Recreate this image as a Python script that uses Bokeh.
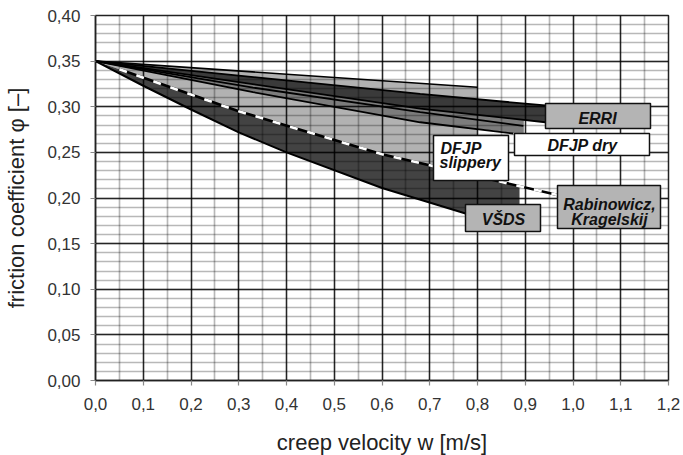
import numpy as np
from bokeh.plotting import figure
from bokeh.models import (Range1d, FixedTicker, CustomJSTickFormatter,
                          Label, BoxAnnotation)
from bokeh.embed import file_html
from bokeh.resources import INLINE

# ---------------- data ----------------
# upper border line of the DFJP slippery field
top_x = [0.0, 0.8]
top_y = [0.35, 0.3214]
# ERRI band (upper / lower edge)
erri_up_x = [0.0, 0.68, 0.942]
erri_up_y = [0.35, 0.314, 0.3014]
erri_lo_x = [0.0, 0.68, 0.942]
erri_lo_y = [0.35, 0.298, 0.283]
# DFJP dry lines
dry_a_x = [0.0, 0.33, 0.68, 0.896]
dry_a_y = [0.35, 0.321, 0.294, 0.279]
dry_b_x = [0.0, 0.33, 0.68, 0.875]
dry_b_y = [0.35, 0.316, 0.283, 0.2707]
dry_lo_x = [0.0, 0.33, 0.68, 0.897]
dry_lo_y = [0.35, 0.316, 0.283, 0.270]
dry_end = 0.897
# Rabinowicz, Kragelskij (dashed)
rab_x = [0.05, 0.3, 0.6, 0.97]
rab_y = [0.341, 0.295, 0.248, 0.203]
# VSDS lower edge
vs_lo_x = [0.0, 0.1, 0.2, 0.3, 0.4, 0.6, 0.775, 0.888]
vs_lo_y = [0.35, 0.323, 0.297, 0.272, 0.25, 0.211, 0.183, 0.166]
vs_end = 0.888
slip_end = 0.8

x_major = [round(i * 0.1, 1) for i in range(13)]
x_minor = [round(i * 0.05, 2) for i in range(25)]
y_major = [round(i * 0.05, 2) for i in range(9)]
y_minor = [round(i * 0.01, 2) for i in range(41)]

# ---------------- layout helpers (reference pixel -> data) ----------------
X0, X1, Y0, Y1 = 95.0, 668.0, 380.0, 15.0
def px2x(px):
    return (px - X0) / (X1 - X0) * 1.2
def px2y(py):
    return (Y0 - py) / (Y0 - Y1) * 0.40

p = figure(frame_width=573, frame_height=365, output_backend="svg",
           toolbar_location=None, x_range=Range1d(0, 1.2), y_range=Range1d(0, 0.40),
           min_border_left=95, min_border_right=15, min_border_top=15,
           min_border_bottom=74, background_fill_color="white",
           border_fill_color="white")
p.outline_line_color = "#222222"
p.outline_line_width = 1.5

# ---- fields (drawn below grid) ----
# DFJP slippery (light gray)
rx_end = float(np.interp(slip_end, rab_x, rab_y))
mask = [x for x in rab_x if x < slip_end]
sx = list(top_x) + [slip_end] + mask[::-1] + [0.0]
sy = list(top_y) + [rx_end] + [rab_y[rab_x.index(x)] for x in mask][::-1] + [0.35]
p.patch(sx, sy, fill_color="#b2b2b2", line_color=None, level="image")

# DFJP dry (medium gray)
up_end = float(np.interp(dry_end, erri_lo_x, erri_lo_y))
ux = [x for x in erri_lo_x if x < dry_end] + [dry_end]
uy = [y for x, y in zip(erri_lo_x, erri_lo_y) if x < dry_end] + [up_end]
dx = ux + dry_lo_x[::-1]
dy = uy + dry_lo_y[::-1]
p.patch(dx, dy, fill_color="#7c7c7c", line_color=None, level="image")

# ERRI (dark)
ex = erri_up_x + erri_lo_x[::-1]
ey = erri_up_y + erri_lo_y[::-1]
p.patch(ex, ey, fill_color="#3a3a3a", line_color=None, level="image")

# VSDS (dark)
r_end = float(np.interp(vs_end, rab_x, rab_y))
vx = [0.0] + [x for x in rab_x if x < vs_end] + [vs_end] + vs_lo_x[::-1]
vy = [0.35] + [y for x, y in zip(rab_x, rab_y) if x < vs_end] + [r_end] + vs_lo_y[::-1]
p.patch(vx, vy, fill_color="#434343", line_color=None, level="image")

# ---- grid / ticks ----
xt = FixedTicker(ticks=x_major, minor_ticks=x_minor)
yt = FixedTicker(ticks=y_major, minor_ticks=y_minor)
p.xaxis.ticker = xt
p.yaxis.ticker = yt
p.xgrid.ticker = xt
p.ygrid.ticker = yt
for g in (p.xgrid, p.ygrid):
    g.grid_line_color = "black"
    g.grid_line_alpha = 0.8
    g.grid_line_width = 1.4
    g.minor_grid_line_color = "black"
    g.minor_grid_line_alpha = 0.28
    g.minor_grid_line_width = 1.7

# ---- lines ----
p.line(top_x, top_y, line_color="black", line_width=1.6)
p.line(erri_up_x, erri_up_y, line_color="black", line_width=1.8)
p.line(erri_lo_x, erri_lo_y, line_color="black", line_width=1.8)
p.line(dry_a_x, dry_a_y, line_color="black", line_width=1.8)
p.line(dry_b_x, dry_b_y, line_color="black", line_width=1.8)
p.line(vs_lo_x, vs_lo_y, line_color="black", line_width=2.0)
p.line(rab_x, rab_y, line_color="black", line_width=2.6)
p.line(rab_x, rab_y, line_color="white", line_width=2.6, line_dash="8 10")

# ---- axes ----
p.xaxis.formatter = CustomJSTickFormatter(code="return tick.toFixed(1).replace('.', ',');")
p.yaxis.formatter = CustomJSTickFormatter(code="return tick.toFixed(2).replace('.', ',');")
for ax in (p.xaxis, p.yaxis):
    ax.axis_line_color = "#222222"
    ax.axis_line_width = 1.5
    ax.major_tick_line_color = "#888888"
    ax.major_tick_line_width = 1.2
    ax.major_tick_in = 0
    ax.major_tick_out = 5
    ax.minor_tick_line_color = None
    ax.major_label_text_font = "Liberation Sans"
    ax.major_label_text_font_size = "17px"
    ax.major_label_text_color = "#333333"
    ax.axis_label_text_font = "Liberation Sans"
    ax.axis_label_text_font_size = "22px"
    ax.axis_label_text_font_style = "normal"
    ax.axis_label_text_color = "#222222"
p.yaxis.major_label_standoff = 10
p.xaxis.major_label_standoff = 12
p.xaxis.axis_label = "creep velocity w [m/s]"
p.yaxis.axis_label = "friction coefficient φ [–]"
p.xaxis.axis_label_standoff = 17
p.yaxis.axis_label_standoff = 15

# ---- label boxes ----
FONT = "Liberation Sans"
def box(l, r, t, b, fill):
    p.add_layout(BoxAnnotation(left=px2x(l), right=px2x(r), top=px2y(t), bottom=px2y(b),
                               fill_color=fill, fill_alpha=1.0, line_color="#111111",
                               line_alpha=1.0, line_width=1.5))
def txt(x, y, s, align="center"):
    p.add_layout(Label(x=x, y=y, text=s, text_font=FONT, text_font_size="16px",
                       text_font_style="bold italic", text_align=align,
                       text_baseline="middle", text_color="#111111"))

box(545, 650, 103, 128, "#b4b4b4")
txt(px2x(597), px2y(117.5), "ERRI")
box(514, 649, 133, 155, "white")
txt(px2x(582), px2y(145), "DFJP dry")
box(433, 508, 135, 180, "white")
txt(px2x(440), px2y(147.5), "DFJP", align="left")
txt(px2x(439), px2y(162), "slippery", align="left")
box(465, 540, 204, 231, "#b4b4b4")
txt(px2x(503), px2y(218.5), "VŠDS")
box(557, 660, 185, 228, "#b4b4b4")
txt(px2x(609), px2y(204), "Rabinowicz,")
txt(px2x(609), px2y(218.5), "Kragelskij")

open("out.html", "w").write(file_html(p, INLINE))
